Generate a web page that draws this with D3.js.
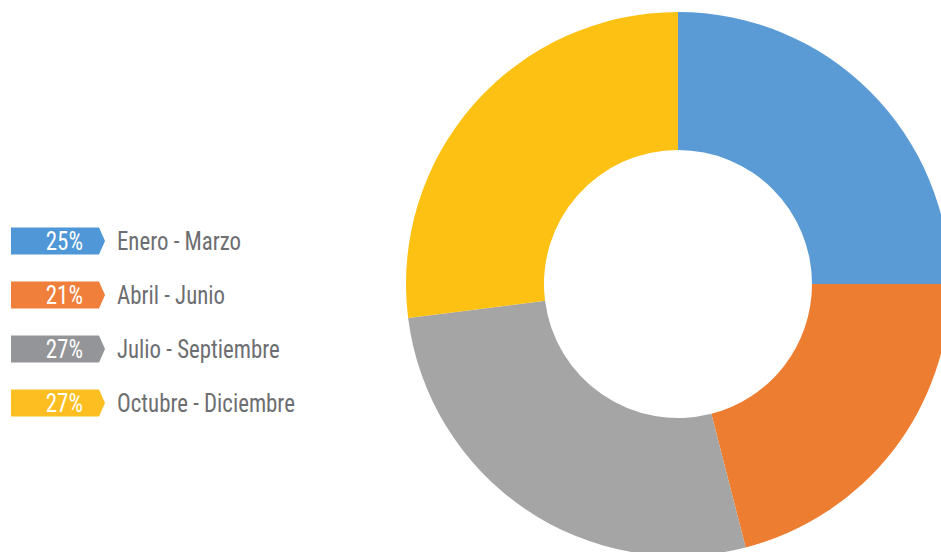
<!DOCTYPE html>
<html>
<head>
<meta charset="utf-8">
<script src="https://cdn.jsdelivr.net/npm/d3@7"></script>
<style>
  body { margin: 0; background: #fff; }
  svg { display: block; }
  text { font-family: "Liberation Sans Narrow", "Roboto Condensed", "DejaVu Sans Condensed", sans-serif; }
</style>
</head>
<body>
<div id="chart"></div>
<script>
// data
let periods = ['Enero - Marzo', 'Abril - Junio', 'Julio - Septiembre', 'Octubre - Diciembre']
let shares = [25, 21, 27, 27]
let sliceColors = ['#5B9BD5', '#ED7D31', '#A5A5A5', '#FDC113']
let tagColors = ['#4F97D6', '#EF7F3B', '#939598', '#FDBE21']

const width = 941, height = 552

var svg = d3.select('#chart').append('svg')
    .attr('width', width)
    .attr('height', height)

// donut
const cx = 678, cy = 284, outerR = 272, innerR = 134

var pie = d3.pie().sort(null).value(d => d)
var arc = d3.arc().innerRadius(innerR).outerRadius(outerR)

var g = svg.append('g')
    .attr('transform', 'translate(' + cx + ',' + cy + ')')

g.selectAll('.slice')
    .data(pie(shares))
    .enter().append('path')
    .attr('class', 'slice')
    .attr('d', arc)
    .style('fill', (d, i) => sliceColors[i])

// legend
var y = d3.scaleBand()
    .domain(periods)
    .range([214, 430])

const tagX = 11, tagW = 88, tagH = 27, tip = 6

var legend = svg.selectAll('.legend')
    .data(periods)
    .enter().append('g')
    .attr('class', 'legend')
    .attr('transform', d => 'translate(0,' + (y(d) + y.bandwidth() / 2) + ')')

legend.append('path')
    .attr('d', 'M' + tagX + ',' + (-tagH / 2) +
        ' L' + (tagX + tagW) + ',' + (-tagH / 2) +
        ' L' + (tagX + tagW + tip) + ',0' +
        ' L' + (tagX + tagW) + ',' + (tagH / 2) +
        ' L' + tagX + ',' + (tagH / 2) + ' Z')
    .style('fill', (d, i) => tagColors[i])

// condensed look: squeeze text horizontally
legend.append('text')
    .attr('transform', 'translate(83,9) scale(0.92,1)')
    .attr('text-anchor', 'end')
    .style('font-size', '25px')
    .style('fill', '#fff')
    .text((d, i) => shares[i] + '%')

legend.append('text')
    .attr('transform', 'translate(117,9) scale(0.915,1)')
    .style('font-size', '25px')
    .style('fill', '#6D6E71')
    .text(d => d)
</script>
</body>
</html>
